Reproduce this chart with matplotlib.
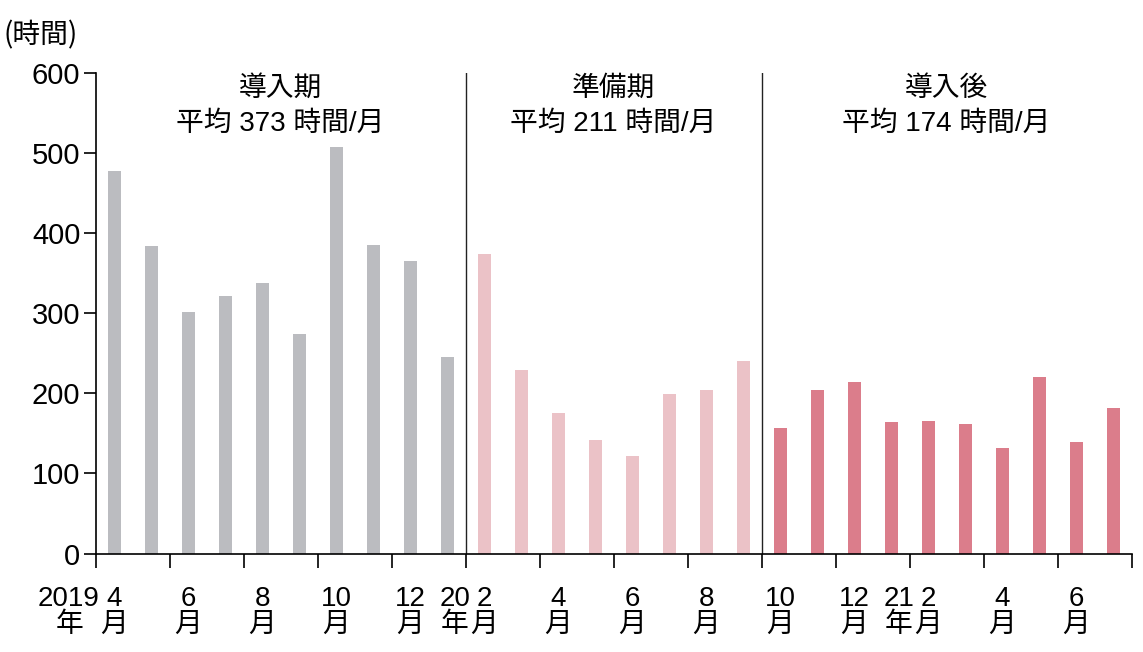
import matplotlib
matplotlib.use('Agg')
import matplotlib.pyplot as plt
import matplotlib.transforms as mtransforms

""" DATA """
hours_intro = [478, 384, 301, 322, 338, 274, 508, 385, 365, 245]
hours_prep = [374, 229, 175, 142, 122, 199, 204, 240]
hours_after = [157, 204, 214, 164, 166, 162, 132, 221, 139, 182]
month_labels = {0: '4', 2: '6', 4: '8', 6: '10', 8: '12', 10: '2', 12: '4',
                14: '6', 16: '8', 18: '10', 20: '12', 22: '2', 24: '4', 26: '6'}
year_labels = {0: '2019', 10: '20', 22: '21'}
period_names = ['導入期', '準備期', '導入後']
period_avgs = [373, 211, 174]
colors = ['#bbbcc0', '#ebc2c7', '#db7d8b']

FONT = ['Liberation Sans', 'Noto Sans CJK JP']
plt.rcParams['font.family'] = FONT
FS = 20

fig = plt.figure(figsize=(11.43, 6.52), dpi=100)
ax = fig.add_axes([0.0836, 0.151, 0.9064, 0.737])

groups = [hours_intro, hours_prep, hours_after]
start = 0
bounds = [-0.5]
for vals, c in zip(groups, colors):
    xs = list(range(start, start + len(vals)))
    ax.bar(xs, vals, width=0.35, color=c, linewidth=0)
    start += len(vals)
    bounds.append(start - 0.5)

for b in bounds[1:-1]:
    ax.plot([b, b], [0, 600], color='#222222', lw=1.0)

ax.set_xlim(-0.5, start - 0.5)
ax.set_ylim(0, 600)
ax.set_yticks(range(0, 601, 100))
ax.set_xticks([x - 0.5 for x in range(0, start + 1, 2)])
ax.set_xticklabels([])
ax.tick_params(axis='y', labelsize=FS + 1, length=9, width=1.2, pad=2, direction='out')
ax.tick_params(axis='x', length=10, width=1.2, direction='out')
for s in ['top', 'right']:
    ax.spines[s].set_visible(False)
for s in ['left', 'bottom']:
    ax.spines[s].set_linewidth(1.2)

# period titles
for i in range(3):
    cx = (bounds[i] + bounds[i + 1]) / 2
    ax.text(cx, 580, period_names[i], ha='center', va='center', fontsize=FS)
    ax.text(cx, 537, f'平均 {period_avgs[i]} 時間/月', ha='center', va='center', fontsize=FS)

# x labels
trans = mtransforms.blended_transform_factory(ax.transData, ax.transAxes)
for i, m in month_labels.items():
    ax.text(i, -0.068, m + '\n月', transform=trans, ha='center', va='top',
            fontsize=FS, linespacing=1.0, clip_on=False)
for i, y in year_labels.items():
    ax.text(i - 0.38, -0.068, y + '\n年', transform=trans, ha='right', va='top',
            multialignment='center', fontsize=FS, linespacing=1.0, clip_on=False)

fig.text(0.003, 0.946, '(時間)', ha='left', va='center', fontsize=FS,
         family=['Noto Sans CJK JP'])

fig.savefig('out.png', dpi=100)
